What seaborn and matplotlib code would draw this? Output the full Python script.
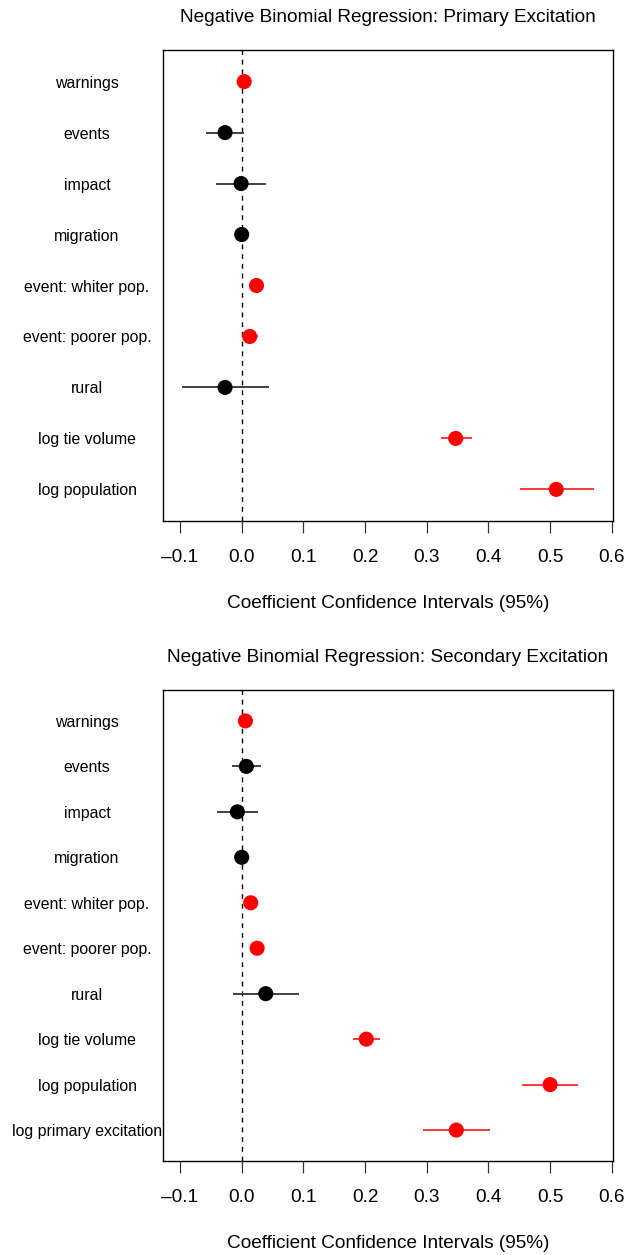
import matplotlib
matplotlib.use("Agg")
import matplotlib.pyplot as plt
import seaborn as sns
import numpy as np
import pandas as pd

# ---------------- data ----------------
labels_primary = ["warnings", "events", "impact", "migration", "event: whiter pop.",
                  "event: poorer pop.", "rural", "log tie volume", "log population"]
est_primary = [0.004, -0.027, -0.001, 0.000, 0.024, 0.013, -0.027, 0.347, 0.510]
lo_primary = [0.001, -0.058, -0.042, -0.002, 0.020, 0.001, -0.097, 0.323, 0.451]
hi_primary = [0.007, 0.003, 0.040, 0.002, 0.028, 0.027, 0.044, 0.373, 0.571]

labels_secondary = ["warnings", "events", "impact", "migration", "event: whiter pop.",
                    "event: poorer pop.", "rural", "log tie volume", "log population",
                    "log primary excitation"]
est_secondary = [0.006, 0.0075, -0.007, 0.000, 0.0146, 0.025, 0.039, 0.202, 0.500, 0.348]
lo_secondary = [0.003, -0.015, -0.040, -0.002, 0.011, 0.021, -0.014, 0.181, 0.455, 0.294]
hi_secondary = [0.009, 0.031, 0.026, 0.002, 0.018, 0.029, 0.093, 0.224, 0.546, 0.402]

x_ticks = [-0.1, 0.0, 0.1, 0.2, 0.3, 0.4, 0.5, 0.6]
titles = ["Negative Binomial Regression: Primary Excitation",
          "Negative Binomial Regression: Secondary Excitation"]
x_label = "Coefficient Confidence Intervals (95%)"

# ---------------- style ----------------
sns.set_style("white")
plt.rcParams["font.family"] = ["Liberation Sans", "DejaVu Sans"]
plt.rcParams["text.color"] = "black"
plt.rcParams["axes.labelcolor"] = "black"
plt.rcParams["xtick.labelcolor"] = "black"
plt.rcParams["ytick.labelcolor"] = "black"

W, H = 626, 1255
fig = plt.figure(figsize=(W / 100, H / 100), dpi=100)

def px_axes(left, top, right, bottom):
    return fig.add_axes([left / W, 1 - bottom / H, (right - left) / W, (bottom - top) / H])

panels = [
    (px_axes(163, 50, 613, 521), labels_primary, est_primary, lo_primary, hi_primary, 0.62),
    (px_axes(163, 690, 613, 1161), labels_secondary, est_secondary, lo_secondary, hi_secondary, 0.68),
]

for (ax, labs, est, lo, hi, ext), title in zip(panels, titles):
    df = pd.DataFrame({"label": labs, "est": est, "lo": lo, "hi": hi})
    df["pos"] = np.arange(len(df))
    df["sig"] = np.where((df["lo"] > 0) | (df["hi"] < 0), "sig", "ns")
    pal = {"sig": "#ff0000", "ns": "#000000"}
    bar_pal = {"sig": "#ff2a2a", "ns": "#333333"}

    ax.axvline(0, color="black", lw=1.0, linestyle=(0, (3.5, 3.5)), zorder=1)
    for _, r in df.iterrows():
        ax.hlines(r["pos"], r["lo"], r["hi"], color=bar_pal[r["sig"]], lw=1.3, zorder=2)
    sns.scatterplot(data=df, x="est", y="pos", hue="sig", palette=pal, s=118,
                    linewidth=0, ax=ax, legend=False, zorder=3)

    n = len(df)
    ax.set_ylim(n - 1 + ext, -ext)
    ax.set_xlim(-0.1276, 0.602)
    ax.set_yticks(df["pos"])
    ax.set_yticklabels(df["label"], fontsize=11.4, color="black")
    for t in ax.get_yticklabels():
        t.set_horizontalalignment("center")
    ax.tick_params(axis="y", length=0, pad=54.7)

    ax.set_xticks(x_ticks)
    ax.set_xticklabels([f"{v:.1f}".replace("-", "\u2013") for v in x_ticks],
                       fontsize=13.7, color="black")
    ax.tick_params(axis="x", bottom=True, length=8.6, width=0.9, color="#333333",
                   pad=11.5, direction="out")

    ax.set_xlabel(x_label, fontsize=13.7, labelpad=21, color="black")
    ax.set_ylabel("")
    ax.set_title(title, fontsize=13.7, pad=20, color="black")
    for sp in ax.spines.values():
        sp.set_visible(True)
        sp.set_color("black")
        sp.set_linewidth(1.0)

fig.savefig("out.png", dpi=100)
